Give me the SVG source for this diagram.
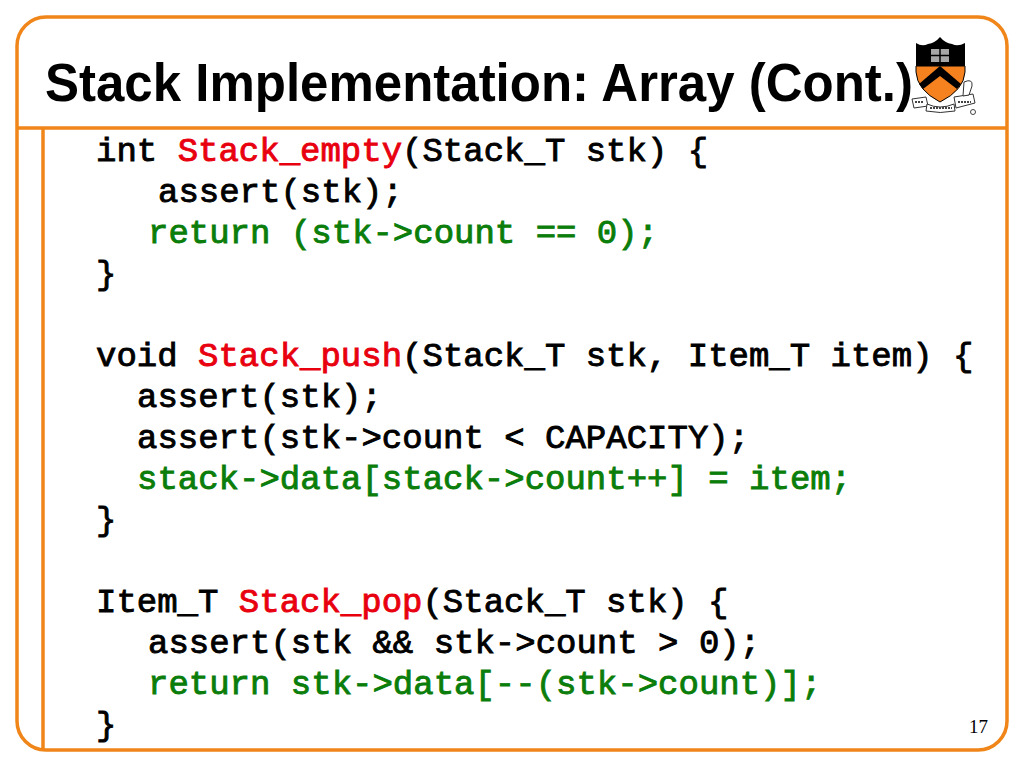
<svg xmlns="http://www.w3.org/2000/svg" width="1024" height="768" viewBox="0 0 1024 768">
<style>
.f{fill:none;stroke:#f08519;stroke-width:3.5}
.c{font-family:"Liberation Mono",monospace;font-weight:400;font-size:34px;fill:#000;stroke:#000;stroke-width:.9;white-space:pre}
.r{fill:#e8000f;stroke:#e8000f}
.g{fill:#0a7d0a;stroke:#0a7d0a}
.s{fill:#fff;stroke:#333;stroke-width:1}
</style>
<rect width="1024" height="768" fill="#fff"/>
<g id="frame">
<rect class="f" x="17" y="17" width="990" height="733" rx="29" ry="29"/>
<path class="f" d="M17 128H1007M43 128V750"/>
</g>
<g id="logo">
<path d="M916 43Q922 47 928 44Q935 43 940 37Q945 43 952 44Q958 47 965 43V66H916Z" fill="#000"/>
<path d="M916 66H965V72Q964 90 940 102Q917 90 916 72Z" fill="#f5821f" stroke="#000" stroke-width="1"/>
<path d="M940 66L961 84L957 89L940 76L923 89L919 84Z" fill="#000"/>
<path d="M931 49h18v13h-18z" fill="#ddd" opacity=".75"/>
<path d="M940 49v13M931 55.500h18" stroke="#000" stroke-width="1.500"/>
<path class="s" d="M912 99L926 97L928 106L914 108Z"/>
<path class="s" d="M927 104Q940 110 954 104L955 111Q940 114 926 111Z"/>
<path class="s" d="M954 97L973 94L975 103L956 108Z"/>
<path class="s" d="M964 82Q973 78 972 86L969 95L963 96Z"/>
<path d="M915 102h9M930 108h22M958 102h13" stroke="#444" stroke-width="2" stroke-dasharray="2 1"/>
<circle cx="973" cy="112" r="2.500" fill="none" stroke="#444"/>
</g>
<g id="title">
<text x="45" y="101" textLength="868" lengthAdjust="spacingAndGlyphs" font-family="'Liberation Sans',Arial,sans-serif" font-weight="700" font-size="53" fill="#000">Stack Implementation: Array (Cont.)</text>
</g>
<g id="code">
<text class="c" x="96" y="161">int <tspan class="r">Stack_empty</tspan>(Stack_T stk) {</text>
<text class="c" x="158" y="202">assert(stk);</text>
<text class="c g" x="148" y="243">return (stk-&gt;count == 0);</text>
<text class="c" x="96" y="284">}</text>
<text class="c" x="96" y="366">void <tspan class="r">Stack_push</tspan>(Stack_T stk, Item_T item) {</text>
<text class="c" x="137" y="407">assert(stk);</text>
<text class="c" x="137" y="448">assert(stk-&gt;count &lt; CAPACITY);</text>
<text class="c g" x="137" y="489">stack-&gt;data[stack-&gt;count++] = item;</text>
<text class="c" x="96" y="530">}</text>
<text class="c" x="96" y="612">Item_T <tspan class="r">Stack_pop</tspan>(Stack_T stk) {</text>
<text class="c" x="148" y="653">assert(stk &amp;&amp; stk-&gt;count &gt; 0);</text>
<text class="c g" x="148" y="694">return stk-&gt;data[--(stk-&gt;count)];</text>
<text class="c" x="96" y="735">}</text>
</g>
<g id="page">
<text x="969" y="733" font-family="'Liberation Serif',serif" font-size="19" fill="#000">17</text>
</g>
</svg>
